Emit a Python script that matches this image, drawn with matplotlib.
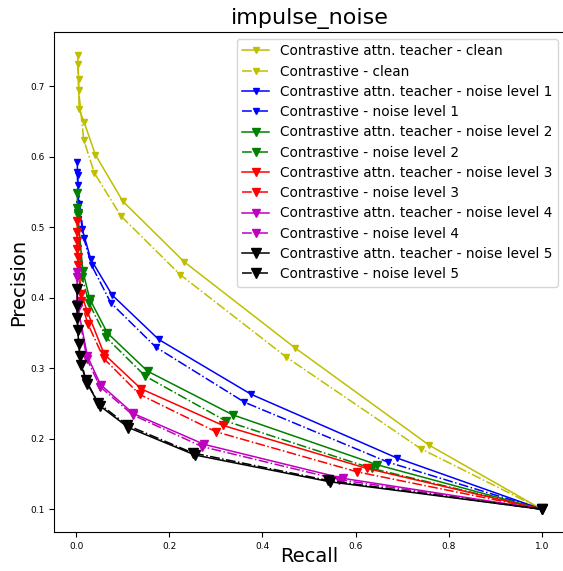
import matplotlib
matplotlib.use("Agg")
import matplotlib.pyplot as plt

# Precision-recall curves for impulse noise, one pair per noise level
recall_teacher_clean = [0.003, 0.005, 0.006, 0.017, 0.041, 0.100, 0.232, 0.470, 0.758, 1.0]
prec_teacher_clean = [0.745, 0.711, 0.668, 0.649, 0.603, 0.537, 0.451, 0.329, 0.191, 0.1]
recall_base_clean = [0.003, 0.005, 0.016, 0.039, 0.096, 0.223, 0.451, 0.740, 1.0]
prec_base_clean = [0.732, 0.695, 0.624, 0.577, 0.516, 0.433, 0.316, 0.186, 0.1]

recall_teacher_n1 = [0.002, 0.003, 0.005, 0.013, 0.031, 0.077, 0.177, 0.376, 0.688, 1.0]
prec_teacher_n1 = [0.593, 0.574, 0.533, 0.497, 0.455, 0.404, 0.341, 0.263, 0.173, 0.1]
recall_base_n1 = [0.002, 0.003, 0.016, 0.033, 0.074, 0.171, 0.361, 0.669, 1.0]
prec_base_n1 = [0.579, 0.560, 0.485, 0.446, 0.393, 0.330, 0.252, 0.167, 0.1]

recall_teacher_n2 = [0.002, 0.003, 0.014, 0.029, 0.067, 0.153, 0.336, 0.647, 1.0]
prec_teacher_n2 = [0.549, 0.520, 0.438, 0.398, 0.350, 0.296, 0.234, 0.163, 0.1]
recall_base_n2 = [0.002, 0.003, 0.012, 0.027, 0.064, 0.148, 0.322, 0.635, 1.0]
prec_base_n2 = [0.527, 0.517, 0.430, 0.393, 0.344, 0.289, 0.225, 0.158, 0.1]

recall_teacher_n3 = [0.002, 0.002, 0.003, 0.011, 0.024, 0.060, 0.139, 0.315, 0.624, 1.0]
prec_teacher_n3 = [0.509, 0.481, 0.458, 0.405, 0.380, 0.320, 0.271, 0.219, 0.158, 0.1]
recall_base_n3 = [0.002, 0.002, 0.004, 0.010, 0.025, 0.059, 0.136, 0.300, 0.604, 1.0]
prec_base_n3 = [0.493, 0.469, 0.446, 0.395, 0.363, 0.314, 0.263, 0.210, 0.153, 0.1]

recall_teacher_n4 = [0.002, 0.002, 0.024, 0.052, 0.122, 0.275, 0.572, 1.0]
prec_teacher_n4 = [0.436, 0.391, 0.317, 0.277, 0.236, 0.192, 0.144, 0.1]
recall_base_n4 = [0.002, 0.003, 0.023, 0.051, 0.121, 0.270, 0.565, 1.0]
prec_base_n4 = [0.430, 0.385, 0.313, 0.274, 0.234, 0.189, 0.142, 0.1]

recall_teacher_n5 = [0.002, 0.002, 0.005, 0.010, 0.024, 0.050, 0.112, 0.255, 0.545, 1.0]
prec_teacher_n5 = [0.412, 0.372, 0.334, 0.305, 0.278, 0.247, 0.216, 0.177, 0.139, 0.1]
recall_base_n5 = [0.002, 0.003, 0.008, 0.020, 0.047, 0.110, 0.250, 0.540, 1.0]
prec_base_n5 = [0.389, 0.355, 0.317, 0.284, 0.251, 0.219, 0.180, 0.141, 0.1]

levels = ["clean", "noise level 1", "noise level 2", "noise level 3",
          "noise level 4", "noise level 5"]
colors = ["y", "b", "g", "r", "m", "k"]
marker_sizes = [4.4, 4.9, 5.4, 5.9, 6.4, 7.3]

teacher_curves = [
    (recall_teacher_clean, prec_teacher_clean),
    (recall_teacher_n1, prec_teacher_n1),
    (recall_teacher_n2, prec_teacher_n2),
    (recall_teacher_n3, prec_teacher_n3),
    (recall_teacher_n4, prec_teacher_n4),
    (recall_teacher_n5, prec_teacher_n5),
]
base_curves = [
    (recall_base_clean, prec_base_clean),
    (recall_base_n1, prec_base_n1),
    (recall_base_n2, prec_base_n2),
    (recall_base_n3, prec_base_n3),
    (recall_base_n4, prec_base_n4),
    (recall_base_n5, prec_base_n5),
]

fig = plt.figure(figsize=(5.63, 5.71), dpi=100)
ax = fig.add_axes([54 / 563, 39 / 571, 511 / 563, 500 / 571])
ax.spines["right"].set_visible(False)

for lvl, c, ms, (rt, pt), (rb, pb) in zip(levels, colors, marker_sizes,
                                          teacher_curves, base_curves):
    ax.plot(rt, pt, color=c, linestyle="-", marker="v", markersize=ms,
            linewidth=1.1, label="Contrastive attn. teacher - " + lvl)
    ax.plot(rb, pb, color=c, linestyle="-.", marker="v", markersize=ms,
            linewidth=1.1, label="Contrastive - " + lvl)

ax.set_title("impulse_noise", fontsize=16)
ax.set_xlabel("Recall", fontsize=14, labelpad=-3)
ax.set_ylabel("Precision", fontsize=14, labelpad=1)
ax.tick_params(labelsize=6.5)
ax.legend(loc="upper right", fontsize=9.8, labelspacing=0.46)

fig.savefig("out.png", dpi=100)
